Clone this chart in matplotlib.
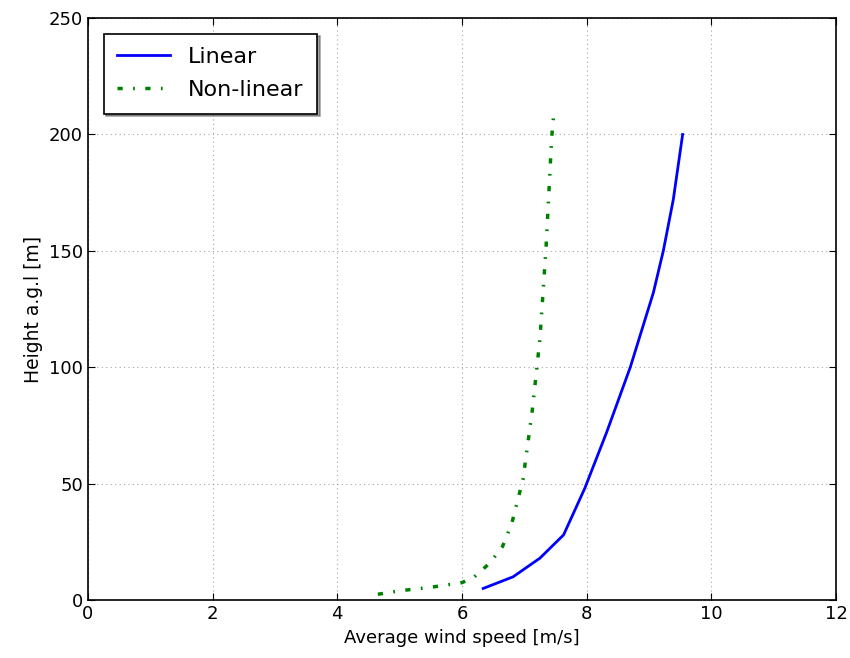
import matplotlib
matplotlib.use("Agg")
import matplotlib.pyplot as plt

# Linear profile
lin_speed = [6.34, 6.82, 7.25, 7.63, 7.97, 8.32, 8.70, 9.07, 9.23, 9.39, 9.54]
lin_height = [5, 10, 18, 28, 48, 72, 100, 132, 150, 172, 200]

# Non-linear profile
nl_speed = [4.65, 5.0, 5.5, 6.0, 6.2, 6.45, 6.65, 6.8, 6.98, 7.13, 7.25, 7.35, 7.44, 7.48]
nl_height = [2.5, 4, 5.5, 7.5, 10, 16, 23, 33, 52, 82, 112, 152, 199, 211]

fig = plt.figure(figsize=(8.5, 6.58), dpi=100)
ax = fig.add_axes([0.1035, 0.088, 0.88, 0.8846])

ax.plot(lin_speed, lin_height, color="#0000ff", lw=2, label="Linear")
ax.plot(nl_speed, nl_height, color="#008000", lw=2.5, linestyle=(0, (1.5, 3, 0.5, 3)), label="Non-linear")

ax.set_xlim(0, 12)
ax.set_ylim(0, 250)
ax.set_xticks(range(0, 13, 2))
ax.set_yticks(range(0, 251, 50))
ax.grid(True, color="gray", linestyle=(0, (1, 3)), linewidth=0.8, alpha=0.7)
ax.tick_params(direction="in", top=True, right=True, labelsize=13, length=5)
for s in ax.spines.values():
    s.set_linewidth(1.2)

ax.set_xlabel("Average wind speed [m/s]", fontsize=13)
ax.set_ylabel("Height a.g.l [m]", fontsize=13.5)

leg = ax.legend(loc="upper left", fontsize=16, fancybox=False, shadow=True,
                framealpha=1, edgecolor="black", handlelength=2.4,
                borderpad=0.6, labelspacing=0.6, borderaxespad=0.7)
leg.get_frame().set_linewidth(1.2)

fig.savefig("out.png", dpi=100)
